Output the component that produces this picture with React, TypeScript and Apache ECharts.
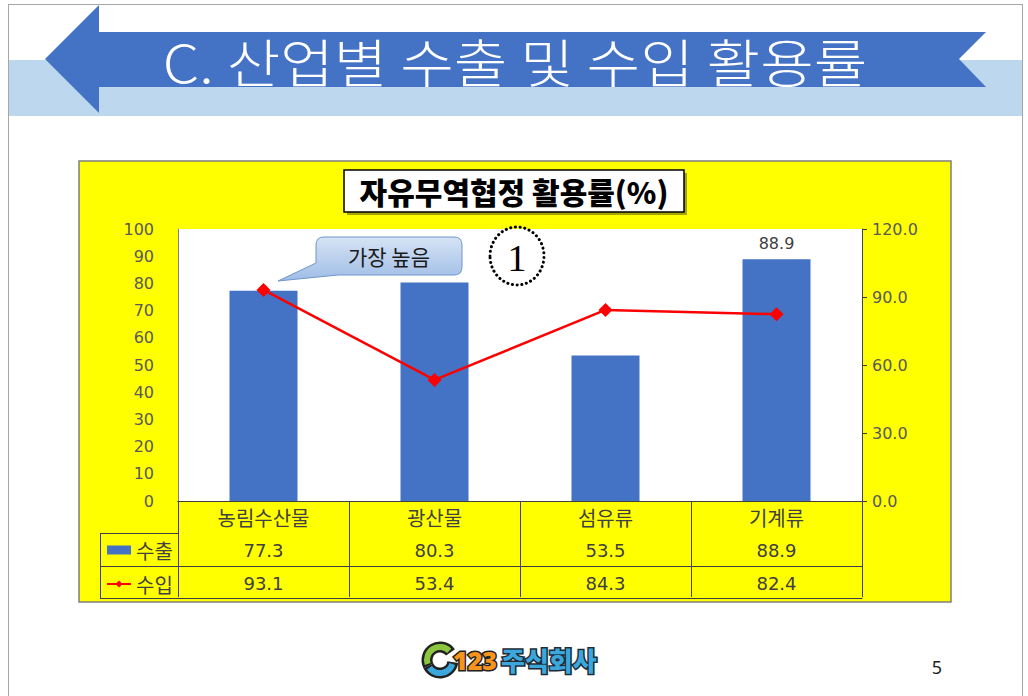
import React, { useEffect, useRef } from 'react';
import * as echarts from 'echarts';

const categories = ['농림수산물', '광산물', '섬유류', '기계류'];
const exportRates = [77.3, 80.3, 53.5, 88.9];
const importRates = [93.1, 53.4, 84.3, 82.4];
const seriesNames = ['수출', '수입'];
const pageTitle = 'C. 산업별 수출 및 수입 활용률';
const chartTitle = '자유무역협정 활용률(%)';
const calloutText = '가장 높음';
const circledText = '1';
const pageNumber = '5';
const labelledIndex = 3;

const KR = "'Noto Sans CJK KR', sans-serif";
const NUM = "'DejaVu Sans', sans-serif";

const CALLOUT_D =
  'M324 237H454Q462 237 462 245V267Q462 275 454 275H338L278 281L316 263V245Q316 237 324 237Z';

let registered = false;
function registerShapes() {
  if (registered) return;
  echarts.graphic.registerShape('callout', echarts.graphic.extendPath(CALLOUT_D, {}) as any);
  registered = true;
}

function txt(text: string, x: number, y: number, font: string, fill: string, extra: any = {}, align = 'center', el: any = {}) {
  return {
    type: 'text',
    x,
    y,
    z: 50,
    silent: true,
    ...el,
    style: {
      text,
      font,
      fill,
      align,
      verticalAlign: 'middle',
      textAlign: align,
      textVerticalAlign: 'middle',
      ...extra,
    },
  };
}

export default function App() {
  const ref = useRef<HTMLDivElement>(null);

  useEffect(() => {
    if (!ref.current) return;
    registerShapes();
    const chart = echarts.init(ref.current, undefined, { renderer: 'svg' });

    const tableAxisLine = { show: true, lineStyle: { color: '#404040', width: 1 } };

    const option: any = {
      animation: false,
      backgroundColor: '#ffffff',
      grid: {
        left: 178,
        top: 229,
        width: 684,
        height: 272,
        show: true,
        backgroundColor: '#ffffff',
        borderWidth: 0,
      },
      legend: {
        data: [{ name: seriesNames[0], icon: 'rect' }, { name: seriesNames[1] }],
        orient: 'vertical',
        left: 101,
        top: 535,
        itemWidth: 24,
        itemHeight: 9,
        itemGap: 14,
        selectedMode: false,
        textStyle: { color: '#404040', fontSize: 20, fontFamily: KR },
      },
      xAxis: [
        {
          type: 'category',
          data: categories,
          position: 'bottom',
          axisLine: tableAxisLine,
          axisTick: { show: true, length: 96, lineStyle: { color: '#404040', width: 1 } },
          axisLabel: { color: '#404040', fontSize: 20, fontFamily: KR, margin: 6 },
          splitLine: { show: false },
        },
        {
          type: 'category',
          data: exportRates.map((v) => v.toFixed(1)),
          position: 'bottom',
          offset: 32,
          axisLine: tableAxisLine,
          axisTick: { show: false },
          axisLabel: { color: '#404040', fontSize: 18, fontFamily: NUM, margin: 8 },
          splitLine: { show: false },
        },
        {
          type: 'category',
          data: importRates.map((v) => v.toFixed(1)),
          position: 'bottom',
          offset: 65,
          axisLine: tableAxisLine,
          axisTick: { show: false },
          axisLabel: { color: '#404040', fontSize: 18, fontFamily: NUM, margin: 8 },
          splitLine: { show: false },
        },
        {
          type: 'category',
          data: categories.map(() => ''),
          position: 'bottom',
          offset: 97,
          axisLine: tableAxisLine,
          axisTick: { show: false },
          axisLabel: { show: false },
          splitLine: { show: false },
        },
      ],
      yAxis: [
        {
          type: 'value',
          min: 0,
          max: 100,
          interval: 10,
          axisLine: { show: true, lineStyle: { color: '#808080', width: 1 } },
          axisTick: { show: false },
          splitLine: { show: false },
          axisLabel: { color: '#595959', fontSize: 16, fontFamily: NUM, margin: 24 },
        },
        {
          type: 'value',
          position: 'right',
          min: 0,
          max: 120,
          interval: 30,
          axisLine: { show: true, lineStyle: { color: '#404040', width: 1 } },
          axisTick: { show: true, length: 5, lineStyle: { color: '#404040' } },
          splitLine: { show: false },
          axisLabel: {
            color: '#595959',
            fontSize: 16,
            fontFamily: NUM,
            margin: 10,
            formatter: (v: number) => v.toFixed(1),
          },
        },
      ],
      series: [
        {
          name: seriesNames[0],
          type: 'bar',
          xAxisIndex: 0,
          yAxisIndex: 0,
          barWidth: 68,
          itemStyle: { color: '#4472c4' },
          label: {
            show: false,
            position: 'top',
            distance: 8,
            color: '#404040',
            fontSize: 16,
            fontFamily: NUM,
            formatter: (p: any) => Number(p.value).toFixed(1),
          },
          data: exportRates.map((v, i) => (i === labelledIndex ? { value: v, label: { show: true } } : v)),
        },
        {
          name: seriesNames[1],
          type: 'line',
          xAxisIndex: 0,
          yAxisIndex: 1,
          symbol: 'diamond',
          symbolSize: 14,
          z: 5,
          lineStyle: { color: '#ff0000', width: 2.5 },
          itemStyle: { color: '#ff0000' },
          data: importRates,
        },
      ],
      graphic: {
        elements: [
          // page frame
          { type: 'line', z: -20, silent: true, shape: { x1: 8, y1: 4.5, x2: 1023, y2: 4.5 }, style: { stroke: '#a6a6a6', lineWidth: 1 } },
          { type: 'line', z: -20, silent: true, shape: { x1: 8.5, y1: 4, x2: 8.5, y2: 696 }, style: { stroke: '#a6a6a6', lineWidth: 1 } },
          { type: 'line', z: -20, silent: true, shape: { x1: 1022.5, y1: 4, x2: 1022.5, y2: 696 }, style: { stroke: '#a6a6a6', lineWidth: 1 } },
          // banner
          { type: 'rect', z: -20, silent: true, shape: { x: 9, y: 60, width: 1013, height: 56 }, style: { fill: '#bdd7ee' } },
          {
            type: 'polygon',
            z: -19,
            silent: true,
            shape: {
              points: [
                [45, 59], [99, 5], [99, 32], [986, 32], [959, 59], [986, 87], [99, 87], [99, 113],
              ],
            },
            style: { fill: '#4472c4' },
          },
          txt(pageTitle, 515, 60, `300 52px ${KR}`, '#ffffff', {}, 'center', { scaleX: 1.12 }),
          // yellow chart box
          { type: 'rect', z: -10, silent: true, shape: { x: 79, y: 161, width: 872, height: 441 }, style: { fill: '#ffff00', stroke: '#7f7f7f', lineWidth: 1.5 } },
          // chart title box
          { type: 'rect', z: 40, silent: true, shape: { x: 347, y: 173, width: 340, height: 42 }, style: { fill: 'rgba(0,0,0,0.35)' } },
          { type: 'rect', z: 41, silent: true, shape: { x: 344, y: 170, width: 340, height: 42 }, style: { fill: '#ffffff', stroke: '#000000', lineWidth: 1.5 } },
          txt(chartTitle, 514, 191, `900 30px ${KR}`, '#000000'),
          // callout
          {
            type: 'callout',
            z: 45,
            silent: true,
            x: 0,
            y: 0,
            style: {
              fill: new echarts.graphic.LinearGradient(0, 0, 0, 1, [
                { offset: 0, color: '#d6e3f5' },
                { offset: 1, color: '#9fbde6' },
              ]),
              stroke: '#7096cc',
              lineWidth: 1,
            },
          },
          txt(calloutText, 389, 256, `400 21px ${KR}`, '#1a1a1a'),
          // circled number
          {
            type: 'ellipse',
            z: 45,
            silent: true,
            shape: { cx: 517, cy: 256, rx: 27, ry: 29 },
            style: { fill: 'none', stroke: '#000000', lineWidth: 3, lineDash: [0.1, 4.6], lineCap: 'round' },
          },
          txt(circledText, 517, 258, `400 38px 'Liberation Serif', serif`, '#000000'),
          // table legend column lines
          { type: 'line', z: 30, silent: true, shape: { x1: 100.5, y1: 533, x2: 100.5, y2: 598 }, style: { stroke: '#404040', lineWidth: 1 } },
          { type: 'line', z: 30, silent: true, shape: { x1: 100, y1: 533.5, x2: 178, y2: 533.5 }, style: { stroke: '#404040', lineWidth: 1 } },
          { type: 'line', z: 30, silent: true, shape: { x1: 100, y1: 566.5, x2: 178, y2: 566.5 }, style: { stroke: '#404040', lineWidth: 1 } },
          { type: 'line', z: 30, silent: true, shape: { x1: 100, y1: 598.5, x2: 178, y2: 598.5 }, style: { stroke: '#404040', lineWidth: 1 } },
          // logo
          { type: 'arc', z: 40, silent: true, shape: { cx: 440, cy: 660, r: 13, startAngle: Math.PI * 0.85, endAngle: Math.PI * 1.8 }, style: { fill: 'none', stroke: '#222222', lineWidth: 11 } },
          { type: 'arc', z: 40, silent: true, shape: { cx: 440, cy: 660, r: 13, startAngle: Math.PI * 0.05, endAngle: Math.PI * 0.85 }, style: { fill: 'none', stroke: '#222222', lineWidth: 11 } },
          { type: 'arc', z: 41, silent: true, shape: { cx: 440, cy: 660, r: 13, startAngle: Math.PI * 0.9, endAngle: Math.PI * 1.75 }, style: { fill: 'none', stroke: '#8cc63f', lineWidth: 6 } },
          { type: 'arc', z: 41, silent: true, shape: { cx: 440, cy: 660, r: 13, startAngle: Math.PI * 0.1, endAngle: Math.PI * 0.8 }, style: { fill: 'none', stroke: '#3ba7dc', lineWidth: 6 } },
          txt('123', 453, 660, `900 25px 'Noto Sans', sans-serif`, '#f7941d', { stroke: '#222222', lineWidth: 3 }, 'left'),
          txt('주식회사', 501, 659, `900 26px ${KR}`, '#3ba7dc', { stroke: '#1d2b36', lineWidth: 3 }, 'left'),
          // page number
          txt(pageNumber, 937, 667, `400 18px 'Noto Sans', sans-serif`, '#222222'),
        ],
      },
    };

    chart.setOption(option);
    return () => {
      chart.dispose();
    };
  }, []);

  return (
    <div
      ref={ref}
      style={{ position: 'absolute', left: 0, top: 0, width: 1028, height: 696 }}
    />
  );
}
